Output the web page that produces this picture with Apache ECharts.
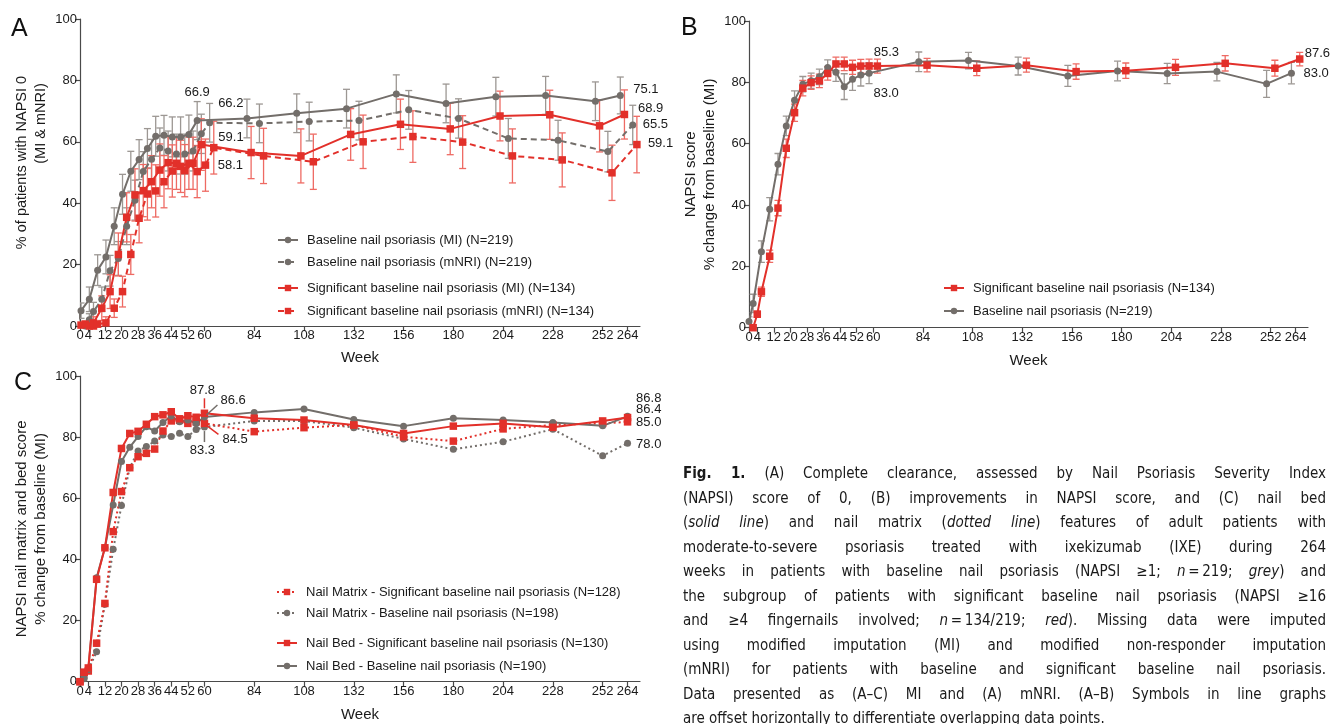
<!DOCTYPE html>
<html>
<head>
<meta charset="utf-8">
<title>Fig. 1 - Nail psoriasis, ixekizumab</title>
<script src="https://cdn.jsdelivr.net/npm/echarts@6.0.0/dist/echarts.min.js"></script>
<style>
  html, body { margin: 0; padding: 0; background: #fff; }
  #chart { position: absolute; left: 0; top: 0; width: 1331px; height: 724px; }
  #caption { position: absolute; left: 683px; top: 461px; width: 643px;
    font-family: "DejaVu Sans Condensed", "DejaVu Sans", Verdana, sans-serif; font-stretch: condensed;
    font-size: 15px; line-height: 24.5px; color: #1a1a1a; }
  #caption div { text-align: justify; text-align-last: justify; }
  #caption div.last { text-align-last: left; }
</style>
</head>
<body>
<div id="chart"></div>
<div id="caption">
  <div><b>Fig. 1.</b> (A) Complete clearance, assessed by Nail Psoriasis Severity Index</div>
  <div>(NAPSI) score of 0, (B) improvements in NAPSI score, and (C) nail bed</div>
  <div>(<i>solid line</i>) and nail matrix (<i>dotted line</i>) features of adult patients with</div>
  <div>moderate-to-severe psoriasis treated with ixekizumab (IXE) during 264</div>
  <div>weeks in patients with baseline nail psoriasis (NAPSI ≥1; <i>n</i>&thinsp;=&thinsp;219; <i>grey</i>) and</div>
  <div>the subgroup of patients with significant baseline nail psoriasis (NAPSI ≥16</div>
  <div>and ≥4 fingernails involved; <i>n</i>&thinsp;=&thinsp;134/219; <i>red</i>). Missing data were imputed</div>
  <div>using modified imputation (MI) and modified non-responder imputation</div>
  <div>(mNRI) for patients with baseline and significant baseline nail psoriasis.</div>
  <div>Data presented as (A–C) MI and (A) mNRI. (A–B) Symbols in line graphs</div>
  <div class="last">are offset horizontally to differentiate overlapping data points.</div>
</div>
<script>
const FONT = '"Liberation Sans", Arial, sans-serif';
const GREY = '#736e6a';
const GREY_ERR = '#9c9793';
const RED = '#e2302a';
const RED_ERR = '#ee6a63';
const INK = '#1a1a1a';
const AXIS = '#4a4a4a';

// visit weeks shared by all panels, and the labelled ticks
const weeks = [0, 2, 4, 8, 12, 16, 20, 24, 28, 32, 36, 40, 44, 48, 52, 56, 60, 84, 108, 132, 156, 180, 204, 228, 252, 264];
const weekTicks = [0, 4, 12, 20, 28, 36, 44, 52, 60, 84, 108, 132, 156, 180, 204, 228, 252, 264];

// A: % of patients with NAPSI 0
const aBaseMI      = [0, 0, 5.0, 8.7, 18.2, 22.5, 32.5, 42.9, 50.4, 54.2, 57.8, 61.8, 62.1, 61.6, 61.6, 62.4, 66.9, 67.6, 69.3, 70.8, 75.6, 72.5, 74.7, 75.1, 73.2, 75.1];
const aBaseMIErr   = [0, 0, 2.5, 4.0, 5.0, 5.5, 6.0, 6.5, 6.5, 6.5, 6.5, 6.5, 6.5, 6.5, 6.5, 6.3, 6.2, 6.3, 6.3, 6.3, 6.2, 6.3, 6.3, 6.2, 6.3, 6.0];
const aBaseMNRI    = [0, 2.0, 4.7, 8.7, 18.0, 22.0, 32.5, 41.0, 50.3, 54.3, 58.0, 57.0, 56.0, 56.0, 57.0, 62.6, 66.2, 66.0, 66.6, 66.9, 70.4, 67.6, 61.1, 60.5, 56.8, 65.5];
const aBaseMNRIErr = [0, 2.0, 3.0, 4.0, 5.0, 5.5, 6.0, 6.5, 6.5, 6.5, 6.5, 6.5, 6.5, 6.5, 6.5, 6.4, 6.3, 6.3, 6.3, 6.3, 6.3, 6.4, 6.5, 6.5, 6.6, 6.4];
const aSigMI       = [0, 0.3, 0.6, 1.0, 5.8, 11.2, 23.3, 35.4, 42.7, 44.1, 47.0, 50.8, 53.2, 53.0, 50.6, 53.0, 59.1, 56.5, 55.4, 62.4, 65.7, 64.2, 68.4, 68.8, 65.2, 68.9];
const aSigMIErr    = [0, 0.5, 1.0, 2.0, 4.0, 5.5, 7.0, 8.0, 8.5, 8.5, 8.5, 8.5, 8.5, 8.5, 8.5, 8.5, 8.4, 8.5, 8.8, 8.4, 8.2, 8.4, 8.1, 8.0, 8.5, 8.0];
const aSigMNRI     = [0, 0, 0.6, 1.0, 5.8, 11.2, 23.3, 35.1, 43.0, 44.0, 47.0, 50.5, 52.0, 53.0, 50.3, 52.4, 58.1, 55.4, 53.5, 60.0, 61.7, 59.9, 55.4, 54.1, 49.9, 59.1];
const aSigMNRIErr  = [0, 0, 1.0, 2.0, 3.0, 5.0, 6.5, 8.0, 8.5, 8.5, 8.5, 8.5, 8.5, 8.5, 8.5, 8.5, 8.6, 9.0, 9.0, 8.7, 8.4, 8.6, 8.8, 8.8, 9.0, 9.2];

// B: NAPSI score % change from baseline
const bSig     = [0, 4.4, 11.7, 23.3, 39.0, 58.5, 70.1, 78.1, 79.9, 80.5, 82.9, 86.0, 86.0, 84.9, 85.3, 85.3, 85.3, 85.6, 84.6, 85.6, 83.5, 83.8, 84.9, 86.2, 84.6, 87.6];
const bSigErr  = [0, 1.0, 1.5, 2.0, 2.5, 3.0, 2.8, 2.5, 2.2, 2.2, 2.2, 2.2, 2.2, 2.3, 2.2, 2.3, 2.3, 2.2, 2.4, 2.3, 2.5, 2.5, 2.6, 2.5, 2.6, 2.2];
const bBase    = [0, 2.0, 7.9, 24.8, 38.6, 53.3, 65.8, 74.2, 79.4, 80.5, 81.8, 84.8, 83.3, 78.6, 81.0, 82.4, 83.0, 86.7, 87.1, 85.3, 82.1, 83.7, 82.9, 83.5, 79.5, 83.0];
const bBaseErr = [0, 1.5, 3.0, 3.5, 3.8, 3.5, 3.2, 3.0, 2.5, 2.5, 2.5, 2.5, 3.0, 4.2, 3.6, 3.6, 3.4, 3.2, 2.7, 2.9, 3.4, 3.2, 3.3, 3.0, 4.4, 3.5];

// C: nail matrix / nail bed % change from baseline
const cMatSig  = [0, 3.0, 3.5, 12.6, 25.6, 49.1, 62.2, 70.0, 73.6, 74.7, 76.1, 82.0, 85.3, 85.5, 84.5, 85.0, 84.5, 81.8, 83.1, 84.0, 80.1, 78.7, 82.7, 84.0, 84.5, 85.0];
const cMatBase = [0, 1.0, 3.8, 9.8, 25.3, 43.3, 57.6, 70.0, 75.5, 76.9, 78.7, 80.7, 80.2, 81.3, 80.2, 82.5, 83.3, 85.3, 85.3, 83.1, 79.4, 76.0, 78.5, 82.6, 73.9, 78.0];
const cBedSig  = [0, 3.1, 4.5, 33.5, 43.8, 61.9, 76.3, 81.2, 81.9, 84.2, 86.7, 87.3, 88.3, 86.0, 87.0, 86.5, 87.8, 86.2, 85.6, 84.0, 81.2, 83.6, 84.5, 83.2, 85.3, 86.4];
const cBedBase = [0, 1.5, 4.0, 34.0, 43.8, 57.8, 72.0, 76.7, 80.2, 83.4, 82.0, 84.8, 86.9, 85.0, 85.6, 84.5, 86.6, 88.1, 89.2, 85.8, 83.6, 86.2, 85.6, 84.8, 83.7, 86.8];

// symbols offset horizontally (weeks) in A and B
const shift = off => weeks.map(w => w + off);
const ax = { baseMI: shift(-3.5), sigMI: shift(-1.5), baseMNRI: shift(2.5), sigMNRI: shift(4.5) };
const bx = { base: shift(-2), sig: shift(2) };
const cx = shift(0);
const W60 = weeks.indexOf(60), W264 = weeks.indexOf(264);

function lineSeries(g, name, xs, ys, color, symbol, size, type) {
  return {
    type: 'line', name, xAxisIndex: g, yAxisIndex: g, z: 3,
    data: xs.map((x, i) => [x, ys[i]]),
    symbol, symbolSize: size,
    lineStyle: { color, width: 2, type },
    itemStyle: { color, borderWidth: 0 },
    emphasis: { disabled: true }
  };
}

function errorBars(g, xs, ys, errs, color) {
  return {
    type: 'custom', xAxisIndex: g, yAxisIndex: g, z: 2, silent: true, clip: true,
    data: xs.map((x, i) => [x, ys[i] - errs[i], ys[i] + errs[i], errs[i]]),
    renderItem(params, api) {
      if (!api.value(3)) return null;
      const lo = api.coord([api.value(0), api.value(1)]);
      const hi = api.coord([api.value(0), api.value(2)]);
      const w = 3.5, st = { stroke: color, lineWidth: 1.3 };
      return { type: 'group', children: [
        { type: 'line', shape: { x1: lo[0], y1: lo[1], x2: hi[0], y2: hi[1] }, style: st },
        { type: 'line', shape: { x1: hi[0] - w, y1: hi[1], x2: hi[0] + w, y2: hi[1] }, style: st },
        { type: 'line', shape: { x1: lo[0] - w, y1: lo[1], x2: lo[0] + w, y2: lo[1] }, style: st }
      ] };
    }
  };
}

// value labels (with optional leader line) next to selected points
function callouts(g, items) {
  return {
    type: 'custom', xAxisIndex: g, yAxisIndex: g, z: 6, silent: true, clip: false,
    data: items.map(it => [it.x, it.y]),
    renderItem(params, api) {
      const it = items[params.dataIndex];
      const p = api.coord([api.value(0), api.value(1)]);
      const kids = [];
      if (it.lead) {
        kids.push({ type: 'line', shape: { x1: p[0] + it.lead[0], y1: p[1] + it.lead[1], x2: p[0] + it.lead[2], y2: p[1] + it.lead[3] },
          style: { stroke: it.leadColor, lineWidth: 1.5 } });
      }
      kids.push({ type: 'text', x: p[0] + it.dx, y: p[1] + it.dy,
        style: { text: api.value(1).toFixed(1), fill: INK, font: '13px ' + FONT, align: it.align || 'left', verticalAlign: 'middle' } });
      return { type: 'group', children: kids };
    }
  };
}

const aNotes = [
  { x: ax.baseMI[W60], y: aBaseMI[W60], dx: 0, dy: -28, align: 'center' },
  { x: ax.baseMNRI[W60], y: aBaseMNRI[W60], dx: 8.5, dy: -19 },
  { x: ax.sigMI[W60], y: aSigMI[W60], dx: 17, dy: -7.5 },
  { x: ax.sigMNRI[W60], y: aSigMNRI[W60], dx: 4, dy: 18 },
  { x: ax.baseMI[W264], y: aBaseMI[W264], dx: 13, dy: -6 },
  { x: ax.sigMI[W264], y: aSigMI[W264], dx: 13.5, dy: -6 },
  { x: ax.baseMNRI[W264], y: aBaseMNRI[W264], dx: 10, dy: 0 },
  { x: ax.sigMNRI[W264], y: aSigMNRI[W264], dx: 11, dy: -1.5 }
];
const bNotes = [
  { x: bx.sig[W60], y: bSig[W60], dx: 9, dy: -14, align: 'center' },
  { x: bx.base[W60], y: bBase[W60], dx: 17, dy: 20, align: 'center' },
  { x: bx.sig[W264], y: bSig[W264], dx: 5, dy: -6 },
  { x: bx.base[W264], y: bBase[W264], dx: 12, dy: 0 }
];
const cNotes = [
  { x: cx[W60], y: cBedSig[W60], dx: -2, dy: -23, align: 'center', lead: [0, -5, 0, -15], leadColor: RED },
  { x: cx[W60], y: cBedBase[W60], dx: 16, dy: -17, lead: [2, -2, 13, -12], leadColor: GREY },
  { x: cx[W60], y: cMatSig[W60], dx: 18, dy: 16.5, lead: [2, 2, 14, 11], leadColor: RED },
  { x: cx[W60], y: cMatBase[W60], dx: -2, dy: 23, align: 'center', lead: [0, 4, 0, 15], leadColor: GREY },
  { x: cx[W264], y: cBedBase[W264], dx: 8.5, dy: -18 },
  { x: cx[W264], y: cBedSig[W264], dx: 8.5, dy: -8 },
  { x: cx[W264], y: cMatSig[W264], dx: 8.5, dy: 0.5 },
  { x: cx[W264], y: cMatBase[W264], dx: 8.5, dy: 1.5 }
];

const NAMES = {
  aBaseMI: 'Baseline nail psoriasis (MI) (N=219)',
  aBaseMNRI: 'Baseline nail psoriasis (mNRI) (N=219)',
  aSigMI: 'Significant baseline nail psoriasis (MI) (N=134)',
  aSigMNRI: 'Significant baseline nail psoriasis (mNRI) (N=134)',
  bSig: 'Significant baseline nail psoriasis (N=134)',
  bBase: 'Baseline nail psoriasis (N=219)',
  cMatSig: 'Nail Matrix - Significant baseline nail psoriasis (N=128)',
  cMatBase: 'Nail Matrix - Baseline nail psoriasis (N=198)',
  cBedSig: 'Nail Bed - Significant baseline nail psoriasis (N=130)',
  cBedBase: 'Nail Bed - Baseline nail psoriasis (N=190)'
};

const DASH = [6, 4];
const DOT = [2, 3];

function xAxisFor(g, gap) {
  return {
    gridIndex: g, type: 'value', min: 0, max: 270,
    name: 'Week', nameLocation: 'middle', nameGap: gap,
    nameTextStyle: { fontSize: 15, color: INK, fontFamily: FONT },
    axisLine: { show: true, onZero: false, lineStyle: { color: AXIS, width: 1.2 } },
    axisTick: { show: true, length: 5, customValues: weekTicks, lineStyle: { color: AXIS, width: 1.2 } },
    axisLabel: { customValues: weekTicks, fontSize: 13, color: INK, margin: 3, fontFamily: FONT },
    splitLine: { show: false }
  };
}
function yAxisFor(g, name, rich) {
  return {
    gridIndex: g, type: 'value', min: 0, max: 100, interval: 20,
    name, nameLocation: 'middle', nameGap: 30, nameRotate: 90,
    nameTextStyle: { fontSize: 15, lineHeight: 19, color: INK, fontFamily: FONT, align: 'center', rich },
    axisLine: { show: true, onZero: false, lineStyle: { color: AXIS, width: 1.2 } },
    axisTick: { show: true, length: 5, lineStyle: { color: AXIS, width: 1.2 } },
    axisLabel: { fontSize: 13, color: INK, margin: 3, fontFamily: FONT },
    splitLine: { show: false }
  };
}
function legendRow(name, left, top) {
  return {
    data: [name], left, top, orient: 'horizontal', padding: 0, selectedMode: false,
    itemWidth: 20, itemHeight: 8,
    textStyle: { fontSize: 13, color: INK, fontFamily: FONT, padding: [0, 0, 0, 4] }
  };
}

// panel A title lines sit above the axis centre, second line higher still
const aNameRich = {
  l1: { fontSize: 14.5, lineHeight: 19, color: INK, fontFamily: FONT, padding: [0, 0, 0, 20] },
  l2: { fontSize: 14.5, lineHeight: 19, color: INK, fontFamily: FONT, padding: [0, 0, 0, 98] }
};

const option = {
  animation: false,
  backgroundColor: '#fff',
  textStyle: { fontFamily: FONT },
  grid: [
    { left: 80, top: 19, width: 560, height: 307, outerBoundsMode: 'none' },
    { left: 749, top: 21, width: 559, height: 306.7, outerBoundsMode: 'none' },
    { left: 80, top: 376, width: 560, height: 305.7, outerBoundsMode: 'none' }
  ],
  xAxis: [xAxisFor(0, 24), xAxisFor(1, 26), xAxisFor(2, 26)],
  yAxis: [
    yAxisFor(0, '{l1|% of patients with NAPSI 0}\n{l2|(MI & mNRI)}', aNameRich),
    yAxisFor(1, 'NAPSI score\n% change from baseline (MI)'),
    yAxisFor(2, 'NAPSI nail matrix and bed score\n% change from baseline (MI)')
  ],
  legend: [
    legendRow(NAMES.aBaseMI, 277, 233.5),
    legendRow(NAMES.aBaseMNRI, 277, 255.5),
    legendRow(NAMES.aSigMI, 277, 281.5),
    legendRow(NAMES.aSigMNRI, 277, 304.5),
    legendRow(NAMES.bSig, 943, 281.5),
    legendRow(NAMES.bBase, 943, 304.5),
    legendRow(NAMES.cMatSig, 276, 585.5),
    legendRow(NAMES.cMatBase, 276, 606.5),
    legendRow(NAMES.cBedSig, 276, 636.5),
    legendRow(NAMES.cBedBase, 276, 659.5)
  ],
  graphic: [
    { type: 'text', left: 11, top: 17, style: { text: 'A', font: '25px ' + FONT, fill: '#111' } },
    { type: 'text', left: 681, top: 16, style: { text: 'B', font: '25px ' + FONT, fill: '#111' } },
    { type: 'text', left: 14, top: 371, style: { text: 'C', font: '25px ' + FONT, fill: '#111' } }
  ],
  series: [
    // A
    errorBars(0, ax.baseMI, aBaseMI, aBaseMIErr, GREY_ERR),
    errorBars(0, ax.baseMNRI, aBaseMNRI, aBaseMNRIErr, GREY_ERR),
    errorBars(0, ax.sigMI, aSigMI, aSigMIErr, RED_ERR),
    errorBars(0, ax.sigMNRI, aSigMNRI, aSigMNRIErr, RED_ERR),
    lineSeries(0, NAMES.aBaseMI, ax.baseMI, aBaseMI, GREY, 'circle', 7, 'solid'),
    lineSeries(0, NAMES.aBaseMNRI, ax.baseMNRI, aBaseMNRI, GREY, 'circle', 7, DASH),
    lineSeries(0, NAMES.aSigMI, ax.sigMI, aSigMI, RED, 'rect', 7.5, 'solid'),
    lineSeries(0, NAMES.aSigMNRI, ax.sigMNRI, aSigMNRI, RED, 'rect', 7.5, DASH),
    callouts(0, aNotes),
    // B
    errorBars(1, bx.base, bBase, bBaseErr, GREY_ERR),
    errorBars(1, bx.sig, bSig, bSigErr, RED_ERR),
    lineSeries(1, NAMES.bBase, bx.base, bBase, GREY, 'circle', 7, 'solid'),
    lineSeries(1, NAMES.bSig, bx.sig, bSig, RED, 'rect', 7.5, 'solid'),
    callouts(1, bNotes),
    // C
    lineSeries(2, NAMES.cMatBase, cx, cMatBase, GREY, 'circle', 7, DOT),
    lineSeries(2, NAMES.cMatSig, cx, cMatSig, RED, 'rect', 7.5, DOT),
    lineSeries(2, NAMES.cBedBase, cx, cBedBase, GREY, 'circle', 7, 'solid'),
    lineSeries(2, NAMES.cBedSig, cx, cBedSig, RED, 'rect', 7.5, 'solid'),
    callouts(2, cNotes)
  ]
};

const chart = echarts.init(document.getElementById('chart'));
chart.setOption(option);
</script>
</body>
</html>
